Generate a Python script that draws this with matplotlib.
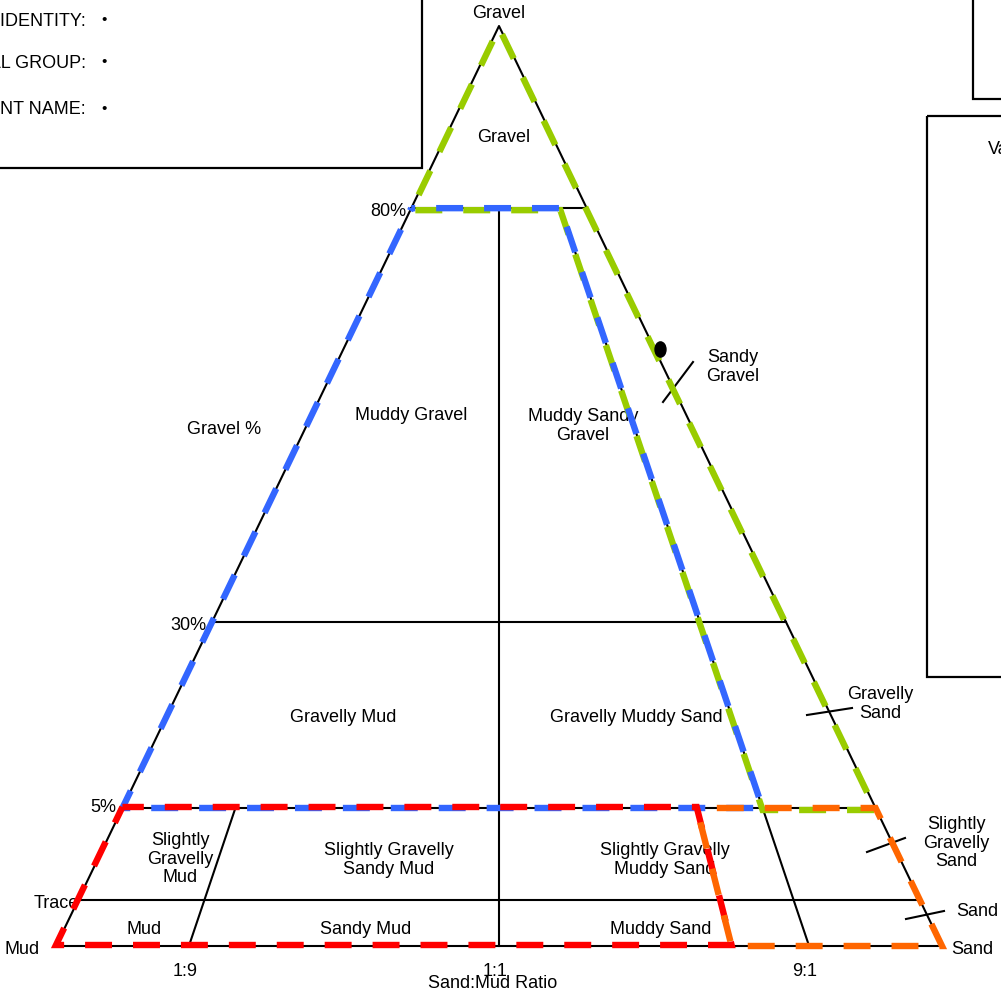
import numpy as np
import matplotlib.pyplot as plt
from matplotlib.patches import Rectangle
from matplotlib.path import Path
from matplotlib.transforms import Affine2D

plt.rcParams['font.family'] = ['Liberation Sans', 'DejaVu Sans']
plt.rcParams['lines.scale_dashes'] = False

# Folk (1954) gravel-sand-mud diagram, non-linear axes
gravel_breaks = [0, 0.01, 5, 30, 80, 100]          # gravel %
gravel_heights = [0, 0.05, 0.15, 0.352, 0.802, 1.0]
ratio_breaks = [0, 0.1, 0.5, 0.9, 1.0]             # sand / (sand + mud)
ratio_pos = [0, 0.15, 0.5, 0.85, 1.0]

gravel_labels = ["Trace", "5%", "30%", "80%"]
gravel_label_vals = [0.01, 5, 30, 80]
ratio_labels = ["1:9", "1:1", "9:1"]
ratio_label_vals = [0.1, 0.5, 0.9]

# textural groups (gravel %, sand fraction) corners
group_green = [(100, 0), (80, 0), (80, 0.9), (5, 0.9), (5, 1), (100, 1)]
group_blue = [(80, 0), (80, 0.9), (5, 0.9), (5, 0)]
group_red = [(5, 0), (5, 0.8), (0, 0.8), (0, 0)]
group_orange = [(5, 0.8), (5, 1), (0, 1), (0, 0.8)]

# sample point
sample_gravel = [63]
sample_sand = [1.0]

apex = np.array([499.0, 26.0])
mud_c = np.array([56.0, 946.0])
sand_c = np.array([942.0, 946.0])


def to_xy(g, s):
    g = np.atleast_1d(np.asarray(g, float))
    s = np.atleast_1d(np.asarray(s, float))
    h = np.interp(g, gravel_breaks, gravel_heights)[:, None]
    r = np.interp(s, ratio_breaks, ratio_pos)[:, None]
    left = mud_c + h * (apex - mud_c)
    right = sand_c + h * (apex - sand_c)
    p = left + r * (right - left)
    return p[:, 0], p[:, 1]


fig = plt.figure(figsize=(10.01, 9.93), dpi=100)
ax = fig.add_axes([0, 0, 1, 1])
ax.set_xlim(0, 1001)
ax.set_ylim(993, 0)
ax.axis('off')

# info boxes
for (x0, y0, x1, y1) in [(-10, -10, 422, 168), (973, -10, 1010, 99), (927, 116, 1010, 677)]:
    ax.add_patch(Rectangle((x0, y0), x1 - x0, y1 - y0, fill=False, lw=1.6, ec='black'))
for txt, y in zip(["SAMPLE IDENTITY:", "TEXTURAL GROUP:", "SEDIMENT NAME:"], [21, 63, 110]):
    ax.text(86, y, txt, ha='right', va='center', fontsize=13)
    ax.text(104, y - 1, "\u2022", ha='center', va='center', fontsize=11)
ax.text(988, 150, "Values", ha='left', va='center', fontsize=13)

kw = dict(color='black', lw=1.5, zorder=2)
# triangle outline
x, y = to_xy([0, 100, 0, 0], [0, 0, 1, 0])
ax.plot(x, y, **kw)
# gravel % lines
for g in gravel_label_vals:
    x, y = to_xy([g, g], [0, 1])
    ax.plot(x, y, **kw)
# ratio lines
x, y = to_xy([0, 5], [0.1, 0.1]); ax.plot(x, y, **kw)
x, y = to_xy([0, 80], [0.5, 0.5]); ax.plot(x, y, **kw)
x, y = to_xy([0, 80], [0.9, 0.9]); ax.plot(x, y, **kw)

# leader ticks
for (x0, y0, x1, y1) in [(663, 402, 693, 362), (807, 715, 852, 708),
                         (867, 852, 905, 838), (906, 919, 944, 911)]:
    ax.plot([x0, x1], [y0, y1], **kw)

# axis labels
offs = {"Trace": (79, 903), "5%": (116, 808), "30%": (206, 625), "80%": (406, 211)}
for lab in gravel_labels:
    ax.text(*offs[lab], lab, ha='right', va='center', fontsize=13)
for lab, v in zip(ratio_labels, ratio_label_vals):
    x, y = to_xy(0, v)
    ax.text(x[0] - 4, 971, lab, ha='center', va='center', fontsize=13)
ax.text(499, 14, "Gravel", ha='center', va='center', fontsize=13)
ax.text(40, 949, "Mud", ha='right', va='center', fontsize=13)
ax.text(951, 949, "Sand", ha='left', va='center', fontsize=13)
ax.text(493, 983, "Sand:Mud Ratio", ha='center', va='center', fontsize=13)
ax.text(224, 430, "Gravel %", ha='center', va='center', fontsize=13)

regions = [
    ("Gravel", 504, 137), ("Muddy Gravel", 411, 416), ("Muddy Sandy\nGravel", 583, 426),
    ("Sandy\nGravel", 733, 367), ("Gravelly Mud", 343, 718), ("Gravelly Muddy Sand", 636, 718),
    ("Gravelly\nSand", 880, 704), ("Slightly\nGravelly\nMud", 180, 859),
    ("Slightly Gravelly\nSandy Mud", 389, 860), ("Slightly Gravelly\nMuddy Sand", 665, 860),
    ("Slightly\nGravelly\nSand", 956, 843), ("Mud", 144, 929), ("Sandy Mud", 366, 929),
    ("Muddy Sand", 661, 929), ("Sand", 977, 912),
]
for txt, x, y in regions:
    ax.text(x, y, txt, ha='center', va='center', fontsize=13, linespacing=1.15)

# textural group outlines: (points, colour, dash offset, pixel shift)
for pts, col, off, dy in [(group_green, '#99CC00', 24, 2), (group_blue, '#3366FF', 16.6, 0),
                          (group_red, '#FF0000', 4, -1), (group_orange, '#FF6600', 20, 0)]:
    g, s = zip(*pts)
    x, y = to_xy(list(g) + [g[0]], list(s) + [s[0]])
    ax.plot(x, y + dy, color=col, lw=4.6, linestyle=(off, (19.4, 15.1)),
            dash_capstyle='butt', dash_joinstyle='miter', zorder=4)

# sample
ell = Path.unit_circle().transformed(Affine2D().scale(0.72, 1.0))
x, y = to_xy(sample_gravel, sample_sand)
ax.scatter(x + 6, y, s=120, marker=ell, color='black', zorder=5)

fig.savefig("out.png", dpi=100)
